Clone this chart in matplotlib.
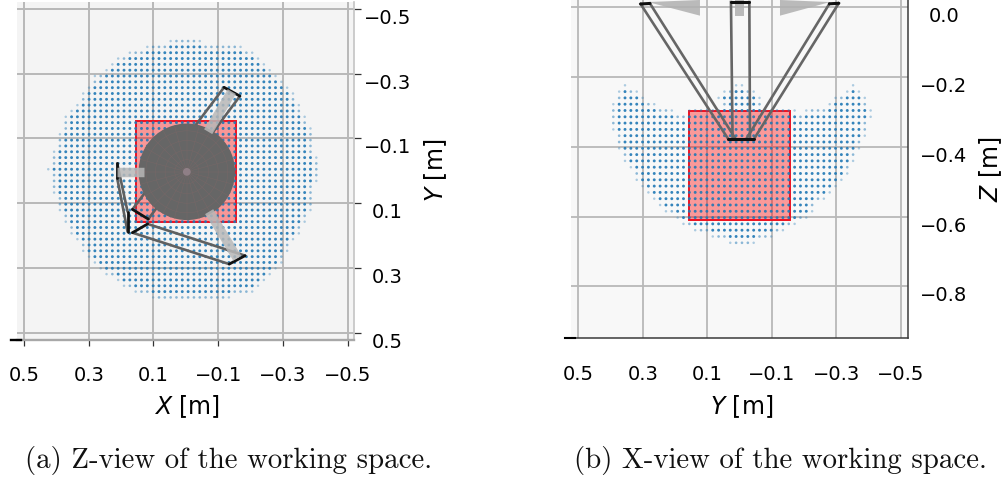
import numpy as np
import matplotlib
matplotlib.use("Agg")
import matplotlib.pyplot as plt
from matplotlib.patches import Rectangle, Circle, Polygon
from matplotlib.lines import Line2D

# ---- tick values
GRID_XY = [0.5, 0.3, 0.1, -0.1, -0.3, -0.5]
GRID_Y_ROW = [-0.5, -0.3, -0.1, 0.1, 0.3, 0.5]
GRID_Z = [0.0, -0.2, -0.4, -0.6, -0.8]

# ---- Z view: reachable points, one (first column, last column) pair per row
Z_COLS = [0.425, 0.407, 0.389, 0.371, 0.353, 0.335, 0.317, 0.299, 0.281, 0.263, 0.245, 0.227,
          0.209, 0.191, 0.173, 0.155, 0.137, 0.119, 0.101, 0.083, 0.065, 0.047, 0.029, 0.011,
          -0.007, -0.025, -0.043, -0.061, -0.079, -0.097, -0.115, -0.133, -0.151, -0.169,
          -0.187, -0.205, -0.223, -0.241, -0.259, -0.277, -0.295, -0.313, -0.331, -0.349,
          -0.367, -0.385, -0.403]
Z_ROWS = [-0.401, -0.383, -0.365, -0.347, -0.329, -0.311, -0.293, -0.275, -0.257, -0.239,
          -0.221, -0.203, -0.185, -0.167, -0.149, -0.131, -0.113, -0.095, -0.077, -0.059,
          -0.041, -0.023, -0.005, 0.013, 0.031, 0.049, 0.067, 0.085, 0.103, 0.121, 0.139,
          0.157, 0.175, 0.193, 0.211, 0.229, 0.247, 0.265, 0.283, 0.301, 0.319, 0.337,
          0.355, 0.373, 0.391]
Z_FIRST = [21, 17, 14, 12, 11, 10, 8, 8, 7, 6, 6, 5, 4, 3, 3, 3, 2, 2, 2, 1, 1, 1, 0,
           1, 1, 1, 1, 2, 2, 2, 3, 3, 4, 4, 5, 6, 6, 7, 8, 9, 10, 12, 13, 15, 18]
Z_LAST = [26, 33, 35, 36, 37, 38, 39, 40, 41, 42, 42, 43, 43, 44, 44, 45, 45, 45, 45, 45, 46, 46, 46,
          46, 46, 45, 45, 45, 45, 45, 44, 44, 43, 43, 42, 41, 41, 40, 40, 39, 38, 37, 36, 35, 31]

# ---- X view: reachable points, (first, last) column segments per row
X_COLS = [0.3915, 0.3734, 0.3553, 0.3372, 0.3190, 0.3009, 0.2828, 0.2647, 0.2465, 0.2284,
          0.2103, 0.1922, 0.1741, 0.1559, 0.1378, 0.1197, 0.1016, 0.0834, 0.0653, 0.0472,
          0.0291, 0.0110, -0.0072, -0.0253, -0.0434, -0.0615, -0.0797, -0.0978, -0.1159,
          -0.1340, -0.1521, -0.1703, -0.1884, -0.2065, -0.2246, -0.2428, -0.2609, -0.2790,
          -0.2971, -0.3152, -0.3334, -0.3515, -0.3696, -0.3877, -0.4059]
X_ROWS = [-0.2235, -0.2416, -0.2596, -0.2777, -0.2957, -0.3138, -0.3318, -0.3499, -0.3679,
          -0.3860, -0.4040, -0.4221, -0.4401, -0.4582, -0.4762, -0.4943, -0.5123, -0.5304,
          -0.5484, -0.5665, -0.5845, -0.6026, -0.6206, -0.6387, -0.6567, -0.6748]
X_SEGMENTS = [
    [(2, 2), (21, 22), (41, 41)],
    [(1, 4), (19, 24), (40, 42)],
    [(1, 5), (18, 25), (38, 43)],
    [(0, 7), (19, 25), (37, 43)],
    [(0, 10), (13, 31), (33, 44)],
    [(0, 44)], [(0, 43)], [(0, 43)], [(1, 43)], [(1, 42)], [(1, 42)],
    [(2, 41)], [(2, 41)], [(3, 40)], [(4, 40)], [(4, 39)], [(5, 38)],
    [(6, 37)], [(7, 36)], [(8, 34)], [(9, 34)], [(11, 33)], [(12, 31)],
    [(14, 29)], [(17, 27)], [(20, 24)],
]

# ---- target box
BOX_Z_VIEW = (0.155, -0.155, -0.155, 0.157)   # x0, x1, y0, y1
BOX_X_VIEW = (0.157, -0.156, -0.297, -0.609)  # y0, y1, z0, z1

# ---- robot, Z view (metres)
DISC = (-0.003, 0.003, 0.149)
RODS_Z = [((0.214, 0.129), (0.003, 0.003)),
          ((-0.069, -0.142), (-0.121, -0.245)),
          ((-0.072, -0.159), (0.126, 0.270))]
LINKS_Z = [((-0.118, 0.165), (-0.258, 0.119)), ((-0.167, 0.116), (-0.231, 0.149)),
           ((-0.134, 0.165), (0.288, 0.191)), ((-0.183, 0.118), (0.262, 0.164)),
           ((0.212, 0.180), (-0.023, 0.126)), ((0.212, 0.180), (0.023, 0.188))]
BARS_Z = [((-0.118, -0.167), (-0.258, -0.231)), ((-0.134, -0.183), (0.288, 0.262)),
          ((0.212, 0.212), (-0.023, 0.023)), ((0.180, 0.180), (0.126, 0.188)),
          ((0.165, 0.116), (0.119, 0.149)), ((0.165, 0.118), (0.191, 0.164))]

# ---- robot, X view (metres)
WEDGES_X = [[(0.284, 0.015), (0.123, 0.021), (0.123, -0.024)],
            [(-0.125, 0.021), (-0.28, 0.015), (-0.125, -0.024)],
            [(0.014, 0.021), (-0.013, 0.021), (-0.013, -0.024), (0.014, -0.024)]]
LINKS_X = [((0.307, 0.035), (0.0095, -0.378)), ((0.278, 0.014), (0.011, -0.375)),
           ((0.027, 0.022), (0.015, -0.375)), ((-0.030, -0.032), (0.015, -0.375)),
           ((-0.307, -0.044), (0.0115, -0.378)), ((-0.278, -0.022), (0.010, -0.375))]
BARS_X = [((0.307, 0.278), (0.0095, 0.011)), ((0.027, -0.030), (0.015, 0.015)),
          ((-0.307, -0.278), (0.0115, 0.010)), ((0.035, -0.044), (-0.378, -0.378))]

CAPTIONS = ["(a) Z-view of the working space.", "(b) X-view of the working space."]

W, H = 1005, 483
plt.rcParams['font.family'] = ['DejaVu Sans']
plt.rcParams['axes.unicode_minus'] = True
fig = plt.figure(figsize=(W / 100, H / 100), dpi=100)
FS = 14
FSL = 17
GRID = '#b8b8b8'
BLUE = (0.12, 0.47, 0.71)


def dots(ax, cols, rows, segs):
    """Scatter the reachable points; points on the rim are paler, as in the source."""
    present = set()
    for r, ss in enumerate(segs):
        for a, b in ss:
            for c in range(a, b + 1):
                present.add((r, c))
    xs, ys, rgba, sz = [], [], [], []
    for r, c in sorted(present):
        xs.append(cols[c])
        ys.append(rows[r])
        nb = [(r, c - 1), (r, c + 1), (r - 1, c), (r + 1, c)]
        rim = sum(n not in present for n in nb)
        rgba.append(BLUE + ((0.9, 0.5, 0.35, 0.35, 0.35)[rim],))
        sz.append((4.4, 3.6, 3.2, 3.2, 3.2)[rim])
    ax.scatter(xs, ys, s=sz, c=rgba, linewidths=0, zorder=3)


# ------------------------------ left panel
axL = fig.add_axes([17 / W, (H - 339.7) / H, 337.3 / W, 338 / H], facecolor='#f4f4f4')
axL.set_xlim(0.5216, -0.5204)
axL.set_ylim(0.5216, -0.5226)
x0, x1, y0, y1 = BOX_Z_VIEW
axL.add_patch(Rectangle((x0, y0), x1 - x0, y1 - y0, facecolor='#ff0000', alpha=0.38, lw=0, zorder=2))
axL.add_patch(Rectangle((x0, y0), x1 - x0, y1 - y0, fill=False, edgecolor='#f01020', lw=1.4, zorder=2.1))
dots(axL, Z_COLS, Z_ROWS, [[(a, b)] for a, b in zip(Z_FIRST, Z_LAST)])
for xs, ys in LINKS_Z:
    axL.plot(xs, ys, color='#606060', lw=1.9, solid_capstyle='round', zorder=4)
for xs, ys in BARS_Z:
    axL.plot(xs, ys, color='#111111', lw=2.0, solid_capstyle='round', zorder=4.1)
cx, cy, cr = DISC
axL.add_patch(Circle((cx, cy), cr, facecolor='#666666', edgecolor='none', zorder=5))
for deg in range(0, 360, 15):
    t = np.deg2rad(deg)
    axL.plot([cx, cx + cr * np.cos(t)], [cy, cy + cr * np.sin(t)],
             color='#7a6668', lw=0.3, zorder=5.1)
for fr in (0.25, 0.45, 0.65, 0.85):
    axL.add_patch(Circle((cx, cy), cr * fr, fill=False, edgecolor='#7a6668', lw=0.3, zorder=5.1))
axL.add_patch(Circle((cx, cy), 0.012, facecolor='#8f7f86', edgecolor='none', zorder=5.2))
for xs, ys in RODS_Z:
    axL.plot(xs, ys, color='#b8b8b8', alpha=0.85, lw=6.8, solid_capstyle='butt', zorder=6)

axL.set_xticks(GRID_XY)
axL.set_xticklabels([f'{v:.1f}'.replace('-', '\u2212') for v in GRID_XY], fontsize=FS)
axL.set_yticks(GRID_Y_ROW)
axL.set_yticklabels([f'{v:.1f}'.replace('-', '\u2212') for v in GRID_Y_ROW], fontsize=FS)
axL.grid(True, color=GRID, lw=1.4, zorder=0)
axL.set_axisbelow(True)
axL.tick_params(axis='x', length=4, width=0.9, color='#333333', pad=15, labelsize=FS)
axL.tick_params(axis='y', length=5, width=0.9, color='#333333', pad=19,
                left=False, labelleft=False, right=True, labelright=True, labelsize=FS)
for sp in ('top', 'left'):
    axL.spines[sp].set_visible(False)
axL.spines['right'].set_color('#c4c4c4')
axL.spines['right'].set_linewidth(1.2)
axL.spines['bottom'].set_color('#a8a8a8')
axL.spines['bottom'].set_linewidth(1.7)
axL.yaxis.set_label_position('right')
axL.set_xlabel('$X$ [m]', fontsize=FSL)
axL.xaxis.set_label_coords(0.505, -0.197)
axL.xaxis.label.set_va('center')
axL.set_ylabel('$Y$ [m]', fontsize=FSL)
axL.yaxis.set_label_coords(1.24, 0.5)
axL.yaxis.label.set_va('center')
for tick in axL.yaxis.get_major_ticks():
    tick.label2.set_ha('center')
    tick.label2.set_va('top')
axL.add_line(Line2D([-0.018, 0.012], [0, 0], transform=axL.transAxes, color='black', lw=1.7,
                    clip_on=False, zorder=8))

# ------------------------------ right panel
axR = fig.add_axes([570.7 / W, (H - 338) / H, 337.6 / W, 338 / H], facecolor='#f8f8f8')
axR.set_xlim(0.5236, -0.5226)
axR.set_ylim(-0.9476, 0.0209)
a0, a1, b0, b1 = BOX_X_VIEW
axR.add_patch(Rectangle((a0, b1), a1 - a0, b0 - b1, facecolor='#ff0000', alpha=0.38, lw=0, zorder=2))
axR.add_patch(Rectangle((a0, b1), a1 - a0, b0 - b1, fill=False, edgecolor='#f01020', lw=1.4, zorder=2.1))
dots(axR, X_COLS, X_ROWS, X_SEGMENTS)
for pts in WEDGES_X:
    axR.add_patch(Polygon(pts, closed=True, facecolor='#b0b0b0', alpha=0.85, edgecolor='none', zorder=4))
for xs, ys in LINKS_X:
    axR.plot(xs, ys, color='#666666', lw=1.9, zorder=5)
for xs, ys in BARS_X:
    axR.plot(xs, ys, color='#111111', lw=2.2, solid_capstyle='round', zorder=6)

axR.set_xticks(GRID_XY)
axR.set_xticklabels([f'{v:.1f}'.replace('-', '\u2212') for v in GRID_XY], fontsize=FS)
axR.set_yticks(GRID_Z)
axR.set_yticklabels([f'{v:.1f}'.replace('-', '\u2212') for v in GRID_Z], fontsize=FS)
axR.grid(True, color=GRID, lw=1.3, zorder=0)
axR.set_axisbelow(True)
axR.tick_params(axis='x', length=0, pad=19.5, labelsize=FS)
axR.tick_params(axis='y', length=0, pad=25.5, left=False, labelleft=False,
                right=False, labelright=True, labelsize=FS)
for sp in ('top', 'left'):
    axR.spines[sp].set_visible(False)
for sp in ('right', 'bottom'):
    axR.spines[sp].set_color('#3a3a3a')
    axR.spines[sp].set_linewidth(1.1)
axR.yaxis.set_label_position('right')
axR.set_xlabel('$Y$ [m]', fontsize=FSL)
axR.xaxis.set_label_coords(0.505, -0.203)
axR.xaxis.label.set_va('center')
axR.set_ylabel('$Z$ [m]', fontsize=FSL)
axR.yaxis.set_label_coords(1.243, 0.5)
axR.yaxis.label.set_va('center')
for tick in axR.yaxis.get_major_ticks():
    tick.label2.set_ha('center')
    tick.label2.set_va('top')
axR.add_line(Line2D([-0.018, 0.012], [0, 0], transform=axR.transAxes, color='black', lw=1.5,
                    clip_on=False, zorder=8))

# ------------------------------ captions
fig.text(228.5 / W, 1 - 460.5 / H, CAPTIONS[0], family='cmr10', fontsize=20.8, ha='center', va='center', color='#111111')
fig.text(780.5 / W, 1 - 460.5 / H, CAPTIONS[1], family='cmr10', fontsize=20.8, ha='center', va='center', color='#111111')

fig.savefig('out.png', dpi=100)
